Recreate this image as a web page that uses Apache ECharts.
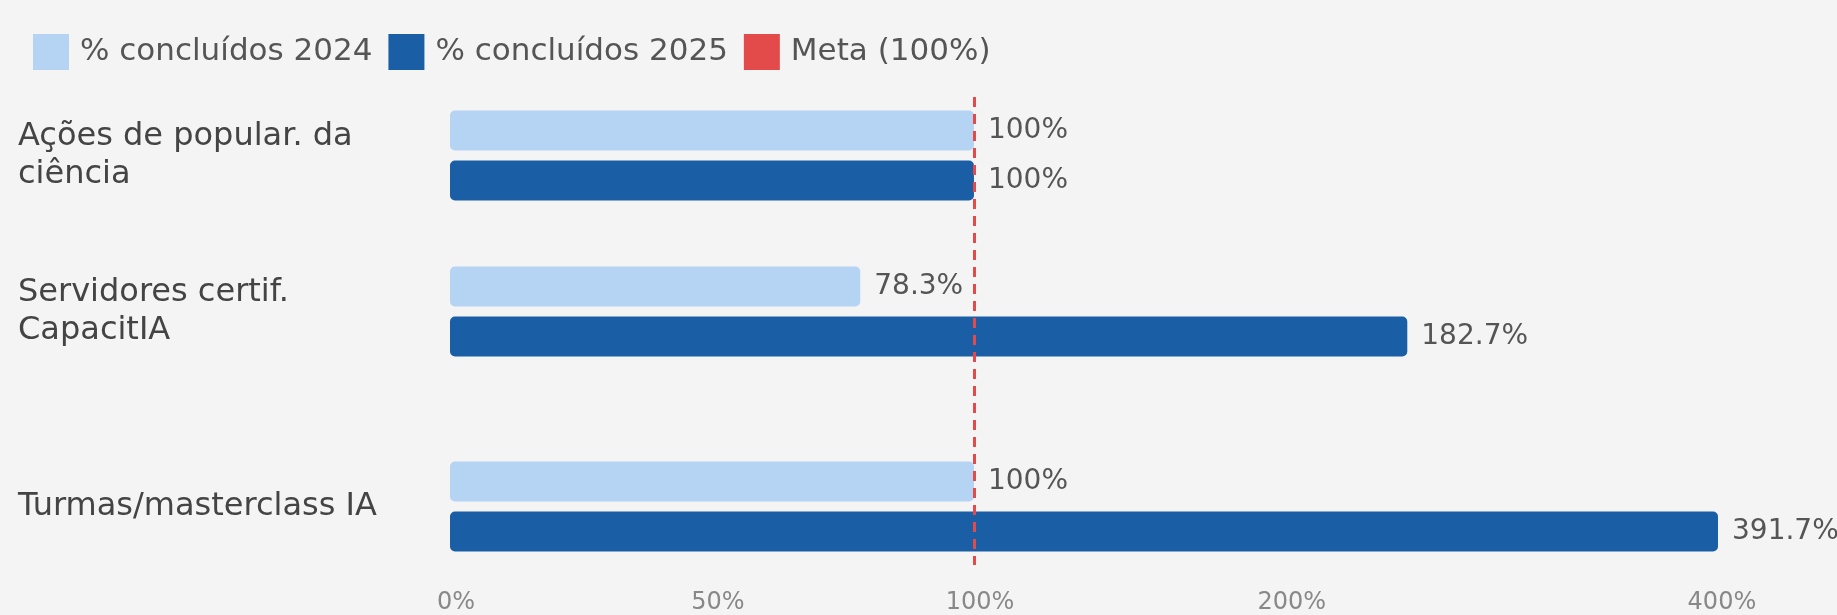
<!DOCTYPE html>
<html>
<head>
<meta charset="utf-8">
<script src="https://cdn.jsdelivr.net/npm/echarts@6/dist/echarts.min.js"></script>
<style>
  html, body { margin: 0; padding: 0; background: #f4f4f4; }
  #chart { width: 1837px; height: 615px; }
</style>
</head>
<body>
<div id="chart"></div>
<script>
// data
var categories = ['Ações de popular. da\nciência', 'Servidores certif.\nCapacitIA', 'Turmas/masterclass IA'];
var pct2024 = [100, 78.3, 100];
var pct2025 = [100, 182.7, 391.7];
var metaValue = 100;
var tickLabels = ['0%', '50%', '100%', '200%', '400%'];
var tickPos = [0, 50, 100, 159.5, 241.6];

// rows are not evenly spaced in the original, so put them on slots of a longer category axis
var rowSlot = [1, 5, 10];
var slotCount = 12;

var font = 'DejaVu Sans';

function fillSlots (arr, empty) {
  var out = [];
  for (var i = 0; i < slotCount; i++) out.push(empty);
  rowSlot.forEach(function (s, i) { out[s] = arr[i]; });
  return out;
}

function pctText (v) {
  return String(v) + '%';
}

var myChart = echarts.init(document.getElementById('chart'));

var option = {
  animation: false,
  textStyle: { fontFamily: font },
  legend: {
    left: 28,
    top: 29,
    icon: 'rect',
    itemWidth: 36,
    itemHeight: 36,
    itemGap: 16,
    textStyle: { fontSize: 31, color: '#555', padding: [0, 0, 0, 6] },
    data: ['% concluídos 2024', '% concluídos 2025', 'Meta (100%)']
  },
  grid: {
    left: 450,
    top: 97,
    width: 1268,
    height: 470.4
  },
  xAxis: {
    type: 'value',
    min: 0,
    max: 242,
    splitLine: { show: false },
    axisLine: { show: false },
    axisTick: { show: false },
    axisLabel: {
      customValues: tickPos,
      formatter: function (v) {
        return tickLabels[tickPos.indexOf(v)];
      },
      fontSize: 24,
      color: '#888',
      margin: 26,
      padding: [0, 0, 0, 12]
    }
  },
  yAxis: {
    type: 'category',
    inverse: true,
    data: fillSlots(categories, ''),
    axisLine: { show: false },
    axisTick: { show: false },
    axisLabel: {
      interval: 0,
      align: 'left',
      margin: 432,
      fontSize: 32,
      lineHeight: 38,
      color: '#444'
    }
  },
  series: [
    {
      name: '% concluídos 2024',
      type: 'bar',
      data: fillSlots(pct2024, '-'),
      barWidth: 40,
      barGap: '25%',
      itemStyle: { color: '#b5d4f3', borderRadius: 5 },
      label: {
        show: true,
        position: 'right',
        distance: 14,
        fontSize: 28,
        color: '#555',
        formatter: function (p) { return pctText(p.value); }
      }
    },
    {
      name: '% concluídos 2025',
      type: 'bar',
      data: fillSlots(pct2025, '-'),
      barWidth: 40,
      barGap: '25%',
      itemStyle: { color: '#1a5ea6', borderRadius: 5 },
      label: {
        show: true,
        position: 'right',
        distance: 14,
        fontSize: 28,
        color: '#555',
        formatter: function (p) { return pctText(p.value); }
      }
    },
    {
      name: 'Meta (100%)',
      type: 'line',
      data: [],
      itemStyle: { color: '#e34a4a' },
      lineStyle: { color: '#e34a4a' },
      markLine: {
        silent: true,
        symbol: 'none',
        label: { show: false },
        lineStyle: { color: '#e34a4a', type: [10, 7], width: 3 },
        data: [{ xAxis: metaValue }]
      }
    }
  ]
};

myChart.setOption(option);
</script>
</body>
</html>
